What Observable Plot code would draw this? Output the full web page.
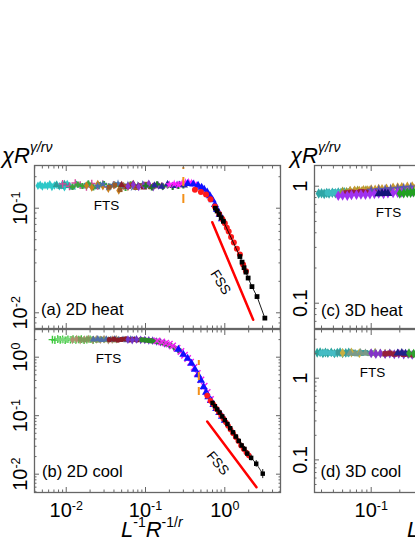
<!DOCTYPE html>
<html><head><meta charset="utf-8">
<script src="https://cdn.jsdelivr.net/npm/d3@7"></script>
<script src="https://cdn.jsdelivr.net/npm/@observablehq/plot@0.6"></script>
<style>
html,body{margin:0;padding:0;background:#fff;}
#c{position:relative;width:415px;height:537px;overflow:hidden;background:#fff;font-family:"Liberation Sans",Arial,sans-serif;}
#c svg{position:absolute;left:0;top:0;}
.ttl{position:absolute;font-size:22px;line-height:22px;white-space:nowrap;color:#000;}
.ttl sup{font-size:14px;vertical-align:baseline;position:relative;top:-10.5px;}
</style></head><body><div id="c"></div>
<script>
// ---------- panel (a) 2D heat ----------
const a_cyan = [[0.0044,0.164],[0.0047,0.167],[0.0050,0.161],[0.0054,0.166],[0.0058,0.163],[0.0062,0.169],[0.0066,0.160],[0.0071,0.165],[0.0076,0.168],[0.0082,0.162],[0.0088,0.166],[0.0095,0.159],[0.0103,0.170],[0.0111,0.163]];
const a_teal = [[0.0075,0.167],[0.0085,0.160],[0.0095,0.171],[0.0108,0.163],[0.012,0.158],[0.0135,0.168],[0.015,0.165],[0.017,0.161],[0.019,0.170],[0.021,0.164],[0.024,0.159],[0.027,0.166]];
const a_pink = [[0.009,0.171],[0.011,0.162],[0.013,0.174],[0.015,0.166],[0.018,0.160],[0.021,0.172],[0.025,0.163],[0.029,0.169],[0.034,0.158],[0.040,0.167]];
const a_green = [[0.012,0.160],[0.014,0.168],[0.016,0.163],[0.019,0.172],[0.022,0.158],[0.026,0.166],[0.030,0.170],[0.035,0.161],[0.041,0.167],[0.048,0.163],[0.056,0.156],[0.065,0.169]];
const a_orange = [[0.018,0.165],[0.021,0.158],[0.025,0.170],[0.029,0.162],[0.034,0.154],[0.040,0.166],[0.046,0.148],[0.053,0.163],[0.060,0.160]];
const a_steel = [[0.025,0.163],[0.029,0.170],[0.034,0.159],[0.039,0.166],[0.045,0.172],[0.052,0.161],[0.060,0.167],[0.070,0.158],[0.080,0.165],[0.092,0.169],[0.105,0.162]];
const a_brown = [[0.035,0.159],[0.041,0.166],[0.048,0.150],[0.056,0.162],[0.065,0.168],[0.075,0.157],[0.087,0.164],[0.100,0.170],[0.115,0.160],[0.130,0.166]];
const a_darkred = [[0.050,0.167],[0.060,0.160],[0.070,0.171],[0.082,0.163],[0.095,0.158],[0.110,0.168],[0.125,0.161],[0.140,0.166],[0.160,0.163]];
const a_purple = [[0.060,0.162],[0.070,0.168],[0.082,0.160],[0.095,0.166],[0.110,0.171],[0.125,0.159],[0.145,0.165],[0.165,0.162],[0.190,0.168],[0.220,0.164],[0.250,0.167]];
const a_dgreen = [[0.100,0.164],[0.120,0.158],[0.140,0.169],[0.165,0.161],[0.190,0.166],[0.220,0.160],[0.260,0.163],[0.300,0.165]];
const a_navy = [[0.130,0.166],[0.160,0.160],[0.190,0.170],[0.230,0.163],[0.270,0.168],[0.310,0.165]];
const a_magenta = [[0.20,0.168],[0.23,0.171],[0.26,0.167],[0.29,0.174],[0.32,0.177],[0.35,0.178],[0.38,0.175],[0.41,0.171],[0.44,0.165],[0.47,0.160]];
const a_blue = [[0.34,0.172],[0.40,0.170],[0.46,0.165],[0.51,0.158],[0.55,0.151],[0.60,0.142],[0.65,0.131],[0.70,0.120],[0.75,0.108],[0.80,0.097],[0.86,0.087],[0.92,0.079]];
const a_red = [[0.42,0.150],[0.50,0.143],[0.58,0.135],[0.66,0.122],[0.75,0.104],[0.85,0.088],[0.93,0.079],[1.00,0.072],[1.06,0.065],[1.12,0.060],[1.20,0.053],[1.30,0.047],[1.42,0.041],[1.55,0.036],[1.70,0.029],[1.85,0.025]];
const a_black = [[0.76,0.100],[0.80,0.094],[0.85,0.087],[0.90,0.081],[0.96,0.075],[1.55,0.0345],[1.65,0.0305],[1.75,0.027],[1.85,0.0245],[1.97,0.0215],[2.20,0.0178],[2.55,0.0143],[3.20,0.0089]];
const a_fss = [[0.695,0.0735],[2.28,0.00857]];
const a_dash = [{x:0.30, y1:0.111, y2:0.245}];
const a_notes = [{t:"FTS", x:0.0322, y:0.106, r:0}, {t:"FSS", x:0.883, y:0.0196, r:58}];

// ---------- panel (b) 2D cool ----------
const b_green = [[0.0067,2.00],[0.0072,1.96],[0.0078,2.04],[0.0084,1.98],[0.0090,2.02],[0.0097,1.95],[0.0105,2.03],[0.0113,1.99],[0.0122,2.05],[0.0132,1.97],[0.0143,2.01],[0.0155,2.04],[0.0168,1.96],[0.0182,2.00],[0.020,2.03],[0.022,1.98]];
const b_lgreen = [[0.008,2.03],[0.009,1.97],[0.0102,2.00],[0.0115,2.05],[0.013,1.98],[0.0147,2.02],[0.0165,1.95],[0.0185,2.04],[0.021,2.00],[0.024,1.97],[0.027,2.03],[0.030,1.99]];
const b_tan = [[0.012,1.98],[0.0135,2.04],[0.015,1.96],[0.017,2.01],[0.019,2.05],[0.0215,1.97],[0.024,2.02],[0.027,1.99],[0.030,2.04],[0.034,1.95],[0.038,2.00],[0.043,2.03]];
const b_olive = [[0.015,2.02],[0.017,1.97],[0.019,2.03],[0.022,1.99],[0.025,1.95],[0.028,2.04],[0.032,1.98],[0.036,2.01],[0.041,1.96],[0.046,2.02]];
const b_steel = [[0.022,2.00],[0.025,2.04],[0.028,1.97],[0.032,2.02],[0.036,1.98],[0.041,2.05],[0.046,1.99],[0.052,2.01],[0.058,1.96],[0.065,2.03],[0.073,1.98]];
const b_maroon = [[0.035,1.99],[0.040,2.03],[0.045,1.96],[0.050,2.01],[0.056,2.05],[0.063,1.98],[0.070,2.02],[0.078,1.97],[0.087,2.00],[0.097,1.98],[0.108,1.95],[0.120,1.93]];
const b_purple = [[0.060,2.00],[0.068,1.96],[0.077,2.02],[0.087,1.98],[0.098,1.97],[0.110,1.94],[0.123,1.92],[0.138,1.86],[0.155,1.80],[0.175,1.72],[0.200,1.60],[0.230,1.45],[0.260,1.30]];
const b_dgreen = [[0.090,1.98],[0.100,1.96],[0.110,1.93],[0.120,1.90],[0.135,1.88],[0.150,1.82],[0.170,1.74],[0.190,1.66],[0.210,1.58],[0.240,1.42],[0.270,1.30]];
const b_magenta = [[0.14,1.90,0.15],[0.16,1.82,0.15],[0.18,1.74,0.14],[0.20,1.67,0.14],[0.22,1.56,0.13],[0.25,1.42,0.12],[0.28,1.25,0.11],[0.31,1.08,0.10],[0.34,0.95,0.09],[0.37,0.82,0.08],[0.41,0.67,0.07],[0.45,0.53,0.06],[0.50,0.41,0.045],[0.55,0.32,0.035],[0.60,0.25,0.028],[0.66,0.19,0.022]];
const b_blue = [[0.26,1.36],[0.30,1.12],[0.34,0.95],[0.38,0.78],[0.42,0.62],[0.46,0.50],[0.50,0.40],[0.54,0.31],[0.58,0.25],[0.62,0.21],[0.67,0.18],[0.72,0.155],[0.78,0.132],[0.85,0.113],[0.92,0.097],[1.00,0.083]];
const b_red = [[0.60,0.22,0.025],[0.66,0.18,0.02],[0.72,0.155,0.017],[0.78,0.132,0.015],[0.84,0.115,0.013],[0.90,0.101,0.011],[0.96,0.089,0.01],[1.03,0.077,0.009],[1.10,0.067,0.008],[1.18,0.058,0.007],[1.27,0.050,0.006],[1.37,0.043,0.005],[1.48,0.037,0.0045],[1.60,0.031,0.004],[1.73,0.027,0.0035],[1.87,0.0235,0.003],[2.00,0.021,0.003]];
const b_black = [[0.70,0.165,0.012],[0.75,0.145,0.011],[0.80,0.128,0.01],[0.86,0.113,0.009],[0.93,0.097,0.008],[1.00,0.084,0.007],[1.08,0.072,0.006],[1.17,0.061,0.005],[1.27,0.052,0.0045],[1.38,0.044,0.004],[1.50,0.037,0.0035],[1.63,0.031,0.003],[1.77,0.027,0.0028],[1.92,0.0225,0.0025],[2.15,0.019,0.0022],[2.49,0.0151,0.002],[3.01,0.0102,0.0018]];
const b_fss = [[0.60,0.0796],[2.51,0.006]];
const b_dash = [{x:0.47, y1:0.221, y2:0.88}];
const b_notes = [{t:"FTS", x:0.0341, y:0.95, r:0}, {t:"FSS", x:0.816, y:0.0154, r:50}];

// ---------- panel (c) 3D heat ----------
const c_teal = [[0.028,0.865],[0.030,0.872],[0.032,0.860],[0.034,0.875],[0.036,0.868],[0.039,0.878],[0.042,0.870],[0.045,0.883],[0.048,0.875],[0.052,0.888]];
const c_cyan = [[0.035,0.880],[0.038,0.874],[0.041,0.889],[0.045,0.882],[0.049,0.894],[0.053,0.887],[0.058,0.900],[0.063,0.893],[0.068,0.905]];
const c_olive = [[0.050,0.900],[0.055,0.893],[0.060,0.910],[0.066,0.903],[0.072,0.918],[0.080,0.910],[0.088,0.925],[0.097,0.918]];
const c_gold = [[0.060,0.905],[0.067,0.915],[0.075,0.910],[0.083,0.925],[0.092,0.920],[0.100,0.935],[0.110,0.930],[0.120,0.945],[0.130,0.940],[0.145,0.950],[0.17,0.97],[0.19,0.975],[0.21,0.98],[0.24,0.99],[0.27,0.995],[0.30,1.0]];
const c_maroon = [[0.055,0.875],[0.062,0.884],[0.070,0.879],[0.078,0.893],[0.087,0.888],[0.097,0.900],[0.108,0.895],[0.120,0.910],[0.135,0.905],[0.150,0.920]];
const c_purple = [[0.045,0.830],[0.050,0.835],[0.056,0.830],[0.062,0.840],[0.070,0.845],[0.078,0.850],[0.087,0.845],[0.097,0.855],[0.108,0.860],[0.120,0.865],[0.135,0.860],[0.150,0.870],[0.170,0.875],[0.190,0.880],[0.210,0.885],[0.240,0.890],[0.270,0.900],[0.300,0.905]];
const c_steel = [[0.10,0.92],[0.12,0.935],[0.14,0.94],[0.16,0.95],[0.19,0.96],[0.22,0.97],[0.26,0.98]];
const c_navy = [[0.12,0.86],[0.13,0.865],[0.14,0.87],[0.15,0.868]];
const c_green = [[0.20,0.865],[0.22,0.870],[0.24,0.878],[0.26,0.880],[0.28,0.890],[0.30,0.895]];
const c_notes = [{t:"FTS", x:0.152, y:0.596, r:0}];

// ---------- panel (d) 3D cool ----------
const d_teal = [[0.027,2.05],[0.029,2.08],[0.031,2.02],[0.033,2.06],[0.035,2.03],[0.038,2.07],[0.041,2.01],[0.044,2.05],[0.047,2.08],[0.050,2.02],[0.054,2.04],[0.058,2.06]];
const d_cyan = [[0.030,2.03],[0.033,2.07],[0.037,2.04],[0.041,2.01],[0.046,2.06],[0.051,2.03],[0.057,2.00],[0.064,2.05],[0.072,2.02],[0.080,2.04]];
const d_teal2 = [[0.045,2.06],[0.050,2.02],[0.056,2.04],[0.063,2.07],[0.070,2.00],[0.078,2.03],[0.087,2.05],[0.097,2.01],[0.108,2.03]];
const d_gold = [[0.050,2.04],[0.062,2.06],[0.075,2.02],[0.110,2.05],[0.140,2.00]];
const d_gray = [[0.060,2.03],[0.068,2.00],[0.077,2.05],[0.087,2.02],[0.098,1.99],[0.110,2.04],[0.124,2.01],[0.140,1.98],[0.157,2.02]];
const d_purple = [[0.100,2.02],[0.112,1.98],[0.125,2.01],[0.140,1.97],[0.157,2.00],[0.175,1.96],[0.195,1.99],[0.220,1.95],[0.245,1.97],[0.270,1.93],[0.300,1.95]];
const d_maroon = [[0.140,1.99],[0.157,2.02],[0.175,1.97],[0.195,2.00],[0.220,1.96],[0.245,1.98],[0.270,1.94],[0.300,1.96]];
const d_navy = [[0.19,2.03],[0.21,2.05],[0.23,2.01]];
const d_green = [[0.25,2.02],[0.28,2.00]];
const d_notes = [{t:"FTS", x:0.103, y:1.17, r:0}];

// ---------- axes ----------
const xMajorL = [0.01, 0.1, 1], xLabelsL = ["10^-2", "10^-1", "10^0"];
const yMajorA = [0.01, 0.1], yLabelsA = ["10^-2", "10^-1"];
const yMajorB = [0.01, 0.1, 1], yLabelsB = ["10^-2", "10^-1", "10^0"];
const xMajorR = [0.1, 1], xLabelsR = ["10^-1", "10^0"];
const yMajorR = [0.1, 1], yLabelsR = ["0.1", "1"];
const panelNames = ["(a) 2D heat", "(b) 2D cool", "(c) 3D heat", "(d) 3D cool"];

const GRAY = "#666";
const minorMult = [2,3,4,5,6,7,8,9];
function minorTicks(dom) {
  const out = [];
  for (let e = -4; e <= 1; e++) for (const m of minorMult) { const v = m * Math.pow(10, e); if (v >= dom[0] && v <= dom[1]) out.push(v); }
  return out;
}
const fmt = (vals, labels) => { const m = new Map(vals.map((v, i) => [v, labels[i]])); return d => m.get(d) ?? ""; };
const X = d => d[0], Y = d => d[1];
function series(list, r) {
  return list.map(([data, color, symbol]) => {
    const so = symbol === "times" || symbol === "plus" || symbol === "asterisk";
    return Plot.dot(data, {x: X, y: Y, symbol, r, fill: so ? "none" : color, stroke: so ? color : "none", strokeWidth: 1.4});
  });
}
function errbars(data, color) {
  return Plot.ruleX(data, {x: X, y1: d => d[1] - d[2], y2: d => d[1] + d[2], stroke: color, strokeWidth: 1});
}
function notes(list) {
  return list.map(n => Plot.text([n], {x: "x", y: "y", text: "t", rotate: n.r, fontSize: 13.5, fill: "black"}));
}
function panel(o) {
  const [fl, ft, fr, fb] = o.frame;
  const inDom = (arr, dom) => arr.filter(v => v >= dom[0] && v <= dom[1]);
  const xMaj = inDom(o.xMajor, o.xDomain), yMaj = inDom(o.yMajor, o.yDomain);
  const xMin = minorTicks(o.xDomain), yMin = minorTicks(o.yDomain);
  const tick = (axis, ticks, anchor, size) => axis(ticks, {anchor, tickSize: -size, fill: "none", stroke: GRAY, strokeWidth: 1, label: null});
  const marks = [
    ...o.marks,
    Plot.frame({stroke: GRAY, strokeWidth: 1.3}),
    ...["bottom", "top"].flatMap(a => [tick(Plot.axisX, xMaj, a, 5), tick(Plot.axisX, xMin, a, 2.5)]),
    ...["left", "right"].flatMap(a => [tick(Plot.axisY, yMaj, a, 5), tick(Plot.axisY, yMin, a, 2.5)]),
    Plot.axisY(yMaj, {anchor: "left", tickSize: 0, tickPadding: 7.5, tickRotate: -90, tickFormat: o.yFmt, fill: "black", label: null, fontSize: 20}),
    Plot.text([o.name], {text: d => d, frameAnchor: "bottom-left", dx: o.nameDx, dy: o.nameDy, textAnchor: "start", fontSize: 16.5, fill: "black"})
  ];
  if (o.xFmt) marks.push(Plot.axisX(xMaj, {anchor: "bottom", tickSize: 0, tickPadding: 10.5, tickFormat: o.xFmt, fill: "black", label: null, fontSize: 20}));
  return Plot.plot({
    width: o.W, height: 537,
    marginLeft: fl, marginTop: ft, marginRight: o.W - fr, marginBottom: 537 - fb,
    x: {type: "log", domain: o.xDomain, axis: null},
    y: {type: "log", domain: o.yDomain, axis: null},
    style: {background: "none", overflow: "visible", maxWidth: "none", fontFamily: "Liberation Sans, Arial, sans-serif", fontSize: "20px", color: "#000"},
    marks
  });
}

const xDomL = [0.00398, 5.04], xDomR = [0.0253, 9.84];

const plotA = panel({
  W: 300, frame: [34, 165, 280, 328], xDomain: xDomL, yDomain: [0.00708, 0.256],
  xMajor: xMajorL, yMajor: yMajorA, yFmt: fmt(yMajorA, yLabelsA), name: panelNames[0], nameDx: 6.5, nameDy: -14,
  marks: [
    ...series([[a_cyan,"#2cc8c8","diamond"],[a_teal,"#2a9d9a","triangle"],[a_pink,"#d4489a","plus"],[a_green,"#3aa53a","cross"],[a_orange,"#c8801e","diamond"],[a_steel,"#4a6fae","star"],[a_brown,"#9a5a28","square"],[a_darkred,"#8c1f2a","triangle"],[a_purple,"#8a34d0","diamond"],[a_dgreen,"#1e7a28","cross"],[a_navy,"#2a2a9a","triangle"],[a_magenta,"#ff1aff","star"]], 2.6),
    ...series([[a_blue,"#1010ff","triangle"],[a_red,"#ff1a1a","circle"]], 3),
    Plot.line(a_black, {x: X, y: Y, stroke: "black", strokeWidth: 0.9}),
    ...series([[a_black,"black","square"]], 2.7),
    Plot.ruleX(a_dash, {x: "x", y1: "y1", y2: "y2", stroke: "#f39019", strokeWidth: 2, strokeDasharray: "9,8"}),
    Plot.line(a_fss, {x: X, y: Y, stroke: "#ff0000", strokeWidth: 2.5}),
    ...notes(a_notes)
  ]
});
const plotB = panel({
  W: 300, frame: [34, 329, 280, 492], xDomain: xDomL, yDomain: [0.00486, 2.976],
  xMajor: xMajorL, yMajor: yMajorB, yFmt: fmt(yMajorB, yLabelsB), xFmt: fmt(xMajorL, xLabelsL), name: panelNames[1], nameDx: 7.5, nameDy: -15.5,
  marks: [
    ...series([[b_green,"#3cc83c","plus"],[b_lgreen,"#7ad87a","cross"],[b_tan,"#b09070","diamond"],[b_olive,"#7e9a5a","square"],[b_steel,"#5070a8","triangle"],[b_maroon,"#8a1e28","circle"],[b_purple,"#7034c8","diamond"],[b_dgreen,"#2a8a2a","circle"]], 2.6),
    errbars(b_magenta, "#f08cf0"),
    ...series([[b_magenta,"#ee22ee","times"],[b_blue,"#1010ff","triangle"]], 3),
    errbars(b_red, "#f6a0a0"),
    ...series([[b_red,"#ff1a1a","circle"]], 2.8),
    errbars(b_black, "#222"),
    Plot.line(b_black, {x: X, y: Y, stroke: "black", strokeWidth: 0.8}),
    ...series([[b_black,"black","square"]], 2.5),
    Plot.ruleX(b_dash, {x: "x", y1: "y1", y2: "y2", stroke: "#f39019", strokeWidth: 2, strokeDasharray: "8,7"}),
    Plot.line(b_fss, {x: X, y: Y, stroke: "#ff0000", strokeWidth: 2.5}),
    ...notes(b_notes)
  ]
});
const plotC = panel({
  W: 600, frame: [314, 165, 560, 328], xDomain: xDomR, yDomain: [0.0608, 1.503],
  xMajor: xMajorR, yMajor: yMajorR, yFmt: fmt(yMajorR, yLabelsR), name: panelNames[2], nameDx: 6.5, nameDy: -12.5,
  marks: [
    ...series([[c_teal,"#2ea6a6","diamond"],[c_cyan,"#3cbcc0","circle"],[c_olive,"#9a9a30","triangle"],[c_gold,"#c89a30","diamond"],[c_maroon,"#961e46","square"],[c_steel,"#5a5aaa","star"],[c_purple,"#a032f0","diamond"],[c_navy,"#14147a","triangle"],[c_green,"#22a022","diamond"]], 3.2),
    ...notes(c_notes)
  ]
});
const plotD = panel({
  W: 600, frame: [314, 329, 560, 492], xDomain: xDomR, yDomain: [0.0399, 3.945],
  xMajor: xMajorR, yMajor: yMajorR, yFmt: fmt(yMajorR, yLabelsR), xFmt: fmt(xMajorR, xLabelsR), name: panelNames[3], nameDx: 6, nameDy: -15.5,
  marks: [
    ...series([[d_teal,"#2aa39c","diamond"],[d_cyan,"#44bcc4","circle"],[d_teal2,"#3a9a98","square"],[d_gold,"#c8b040","diamond"],[d_gray,"#7a9a88","triangle"],[d_purple,"#8434c8","diamond"],[d_maroon,"#96203a","square"],[d_navy,"#22228a","triangle"],[d_green,"#30a030","diamond"]], 3),
    ...notes(d_notes)
  ]
});

const c = document.getElementById("c");
for (const p of [plotA, plotB, plotC, plotD]) c.appendChild(p);

// superscripts in tick labels
for (const t of c.querySelectorAll("svg text")) {
  const m = /^(.*)\^(.+)$/.exec(t.textContent);
  if (m && t.children.length === 0) {
    t.textContent = m[1];
    const s = document.createElementNS("http://www.w3.org/2000/svg", "tspan");
    s.setAttribute("font-size", "12.5px");
    s.setAttribute("dy", "-7.5");
    s.textContent = m[2];
    t.appendChild(s);
  }
}

// axis titles
const titles = [
  {html: '<i>χR</i><sup><i>γ/rν</i></sup>', left: 2, top: 144.5},
  {html: '<i>χR</i><sup><i>γ/rν</i></sup>', left: 290, top: 144.5},
  {html: '<i>L</i><sup>-1</sup><i>R</i><sup>-1/<i>r</i></sup>', left: 121, top: 519.4},
  {html: '<i>L</i><sup>-1</sup><i>R</i><sup>-1/<i>r</i></sup>', left: 407, top: 519.4}
];
for (const tt of titles) {
  const d = document.createElement("div");
  d.className = "ttl"; d.style.left = tt.left + "px"; d.style.top = tt.top + "px"; d.innerHTML = tt.html;
  c.appendChild(d);
}
</script></body></html>
